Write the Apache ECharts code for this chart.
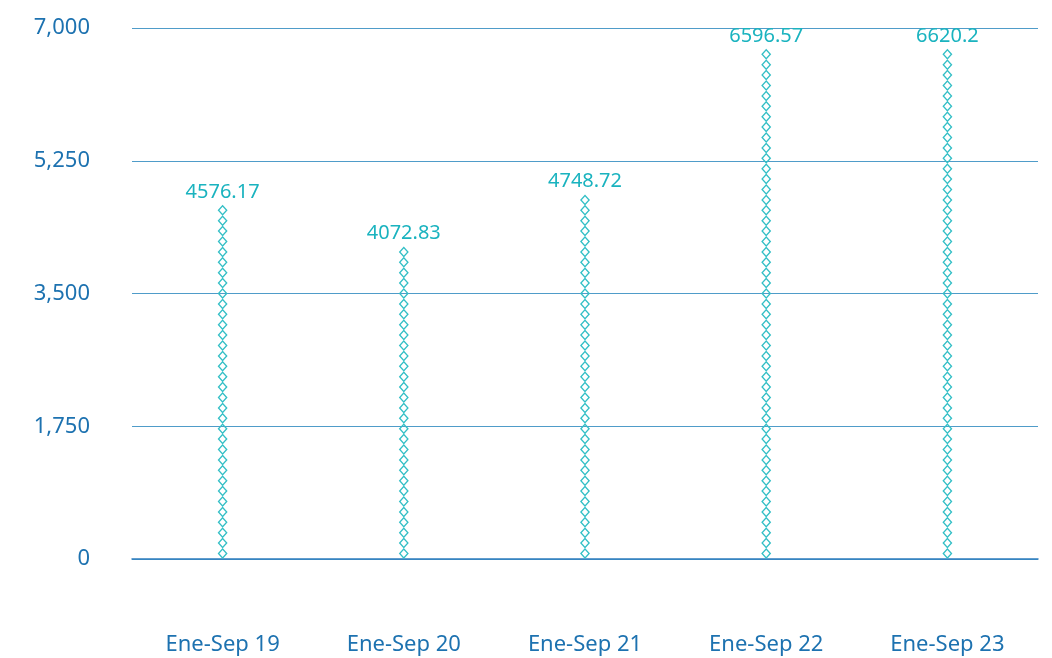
<!DOCTYPE html>
<html>
<head>
<meta charset="utf-8">
<script src="https://cdn.jsdelivr.net/npm/echarts@6/dist/echarts.min.js"></script>
<style>
  html, body { margin: 0; padding: 0; background: #ffffff; }
  #chart { width: 1052px; height: 658px; }
</style>
</head>
<body>
<div id="chart"></div>
<script>
const categories = ['Ene-Sep 19', 'Ene-Sep 20', 'Ene-Sep 21', 'Ene-Sep 22', 'Ene-Sep 23']
const values = [4576.17, 4072.83, 4748.72, 6596.57, 6620.2]
const yTicks = [0, 1750, 3500, 5250, 7000]

// hollow diamond: outer clockwise, inner counter-clockwise so the middle stays empty
const hollowDiamond = 'path://M5,0 L10,5 L5,10 L0,5 Z M5,1.8 L1.8,5 L5,8.2 L8.2,5 Z'

const chart = echarts.init(document.getElementById('chart'))

chart.setOption({
  animation: false,
  grid: { left: 132, right: 14, top: 28, bottom: 99 },
  xAxis: {
    type: 'category',
    data: categories,
    axisLine: { lineStyle: { color: '#2f7dbf', width: 1.5 } },
    axisTick: { show: false },
    axisLabel: {
      color: '#1d72b0',
      fontSize: 22,
      fontFamily: 'Noto Sans',
      margin: 75,
    },
  },
  yAxis: {
    type: 'value',
    min: yTicks[0],
    max: yTicks[yTicks.length - 1],
    interval: 1750,
    axisLine: { show: false },
    axisTick: { show: false },
    splitLine: { lineStyle: { color: '#4f9cc9', width: 1 } },
    axisLabel: {
      color: '#1d72b0',
      fontSize: 22,
      fontFamily: 'Noto Sans',
      margin: 42,
      formatter: (v) => v.toLocaleString('en-US'),
    },
  },
  series: [
    {
      type: 'pictorialBar',
      data: values,
      symbol: hollowDiamond,
      symbolSize: [10, 11],
      symbolRepeat: true,
      symbolMargin: -0.3,
      symbolPosition: 'start',
      itemStyle: { color: '#33bfc6' },
      label: {
        show: true,
        position: 'top',
        offset: [0, 2],
        color: '#1ab3bf',
        fontSize: 20,
        fontFamily: 'Noto Sans',
      },
    },
  ],
})
</script>
</body>
</html>
